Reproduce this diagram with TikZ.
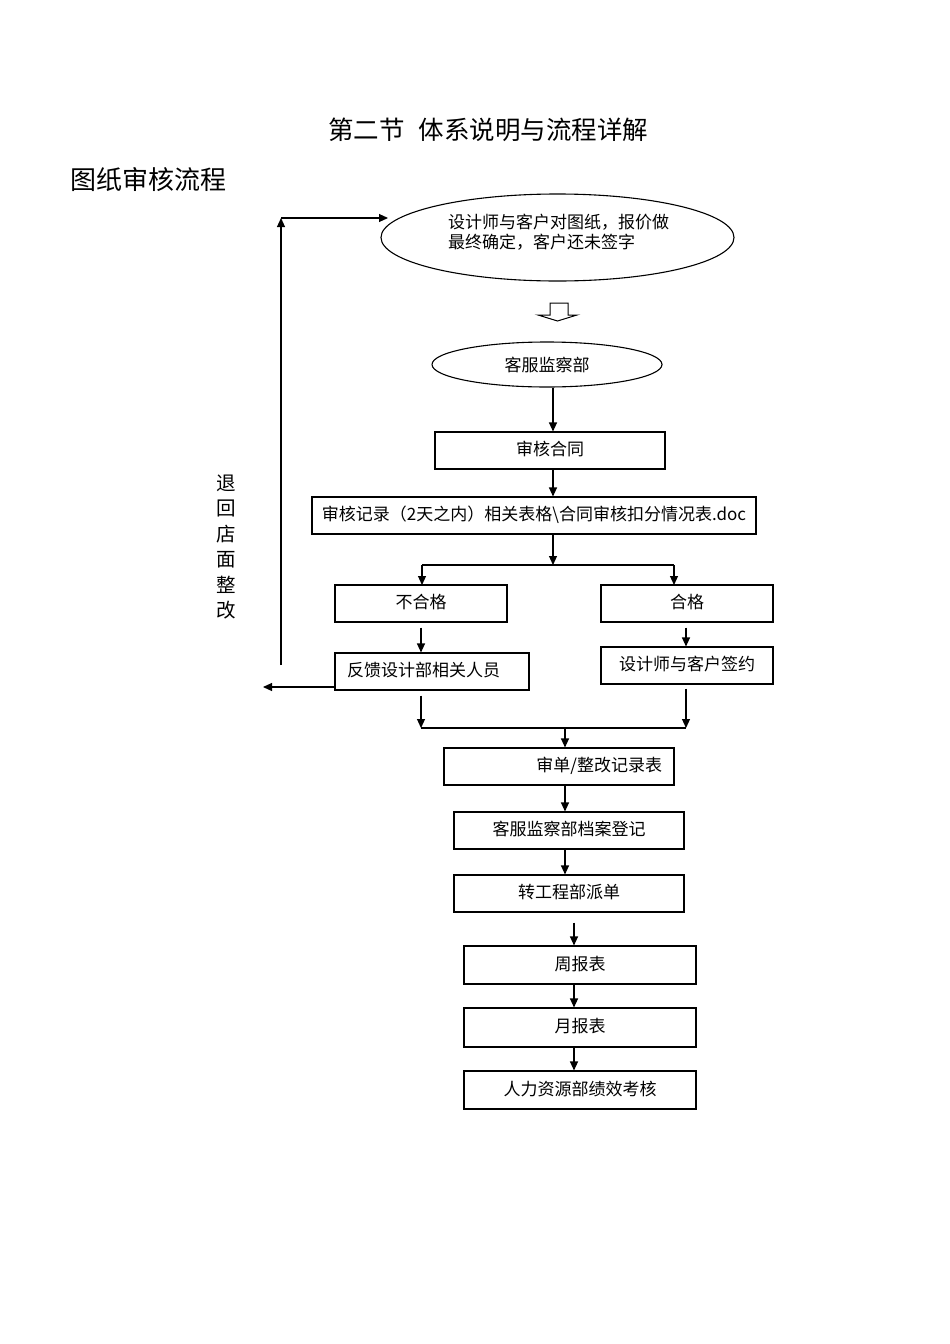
\documentclass[tikz,border=0pt]{standalone}
\usepackage{fontspec}
\setmainfont{Noto Sans CJK SC}
\usetikzlibrary{arrows.meta,shapes.geometric}
\begin{document}
\begin{tikzpicture}[x=1pt,y=-1pt,
  ln/.style={line width=1.1pt},
  box/.style={draw, line width=1.1pt, minimum height=37pt, inner sep=0pt,
    text height=15pt, text depth=5pt, font=\fontsize{17}{19}\selectfont},
  oval/.style={draw, ellipse, line width=1.1pt, inner sep=0pt, font=\fontsize{17}{20}\selectfont},
  arr/.style={-{Triangle[length=9pt,width=8pt]}, line width=1.1pt}]
\useasboundingbox (0,0) rectangle (950,1344);

% titles
\node[font=\fontsize{25.5}{30}\selectfont] (title) at (488,130) {第二节\hspace{14pt}体系说明与流程详解};
\node[font=\fontsize{26}{30}\selectfont] (sub) at (148,180) {图纸审核流程};

% ellipses
\node[oval, minimum width=353pt, minimum height=87pt] (e1) at (557.5,237.5) {};
\node[font=\fontsize{17}{20}\selectfont, align=left, inner sep=0pt, xshift=1pt, yshift=5pt] (e1t) at (e1.center)
  {设计师与客户对图纸，报价做\\最终确定，客户还未签字};
\node[oval, minimum width=230pt, minimum height=45pt] (e2) at (547,364.5) {客服监察部};

% hollow arrow between ellipses
\draw[line width=1pt] (550,303) -- (568,303) -- (568,315) -- (577,315) -- (557.5,321)
  -- (538,315) -- (550,315) -- cycle;

% boxes
\node[box, minimum width=230pt] (b1) at (550,450.5) {审核合同};
\node[box, minimum width=444pt] (b2) at (534,515.5) {审核记录（2天之内）相关表格\textbackslash 合同审核扣分情况表.doc};
\node[box, minimum width=172pt] (b3) at (421,603.5) {不合格};
\node[box, minimum width=172pt] (b4) at (687,603.5) {合格};
\node[box, minimum width=194pt, text width=170pt, inner xsep=12pt, align=left] (b5) at (432,671.5) {反馈设计部相关人员};
\node[box, minimum width=172pt] (b6) at (687,665.5) {设计师与客户签约};
\node[box, minimum width=230pt, text width=206pt, inner xsep=12pt, align=right] (b7) at (559,766.5) {审单/整改记录表};
\node[box, minimum width=230pt] (b8) at (569,830.5) {客服监察部档案登记};
\node[box, minimum width=230pt] (b9) at (569,893.5) {转工程部派单};
\node[box, minimum width=232pt, minimum height=38pt] (b10) at (580,965) {周报表};
\node[box, minimum width=232pt, minimum height=39pt] (b11) at (580,1027.5) {月报表};
\node[box, minimum width=232pt, minimum height=38pt] (b12) at (580,1090) {人力资源部绩效考核};

% vertical label
\node[font=\fontsize{19.5}{25.4}\selectfont, align=center] (back) at (226,547)
  {退\\回\\店\\面\\整\\改};

% helper coordinates
\coordinate (c1) at (553,0);
\coordinate (c2) at (565,0);
\coordinate (c3) at (574,0);
\coordinate (s1) at (553,565);
\coordinate (m1) at (421,728);
\coordinate (m2) at (686,728);
\coordinate (r1) at (263,687);
\coordinate (r2) at (281,665);
\coordinate (r3) at (281,218);
\coordinate (r4) at (388,218);

% connectors
\draw[arr] (e2.south -| c1) -- (b1.north -| c1);
\draw[arr] (b1.south -| c1) -- (b2.north -| c1);
\draw[arr] (b2.south -| c1) -- (s1);
\draw[ln] (s1 -| 422,0) -- (s1 -| 674,0);
\draw[arr] (422,565) -- (422,585);
\draw[arr] (674,565) -- (674,585);
\draw[arr, shorten <=5pt] (b3.south) -- (b5.north -| b3.south);
\draw[arr, shorten <=5pt] (b4.south -| m2) -- (b6.north -| m2);
\draw[arr] (b5.west |- r1) -- (r1);
\draw[arr] (r2) -- (r3);
\draw[arr] (r3) -- (r4);
\draw[arr, shorten <=5pt] (b5.south -| m1) -- (m1);
\draw[arr, shorten <=4pt] (b6.south -| m2) -- (m2);
\draw[ln] (m1) -- (m2);
\draw[arr] (m1 -| c2) -- (b7.north -| c2);
\draw[arr] (b7.south -| c2) -- (b8.north -| c2);
\draw[arr] (b8.south -| c2) -- (b9.north -| c2);
\draw[arr, shorten <=10pt] (b9.south -| c3) -- (b10.north -| c3);
\draw[arr] (b10.south -| c3) -- (b11.north -| c3);
\draw[arr] (b11.south -| c3) -- (b12.north -| c3);
\end{tikzpicture}
\end{document}
